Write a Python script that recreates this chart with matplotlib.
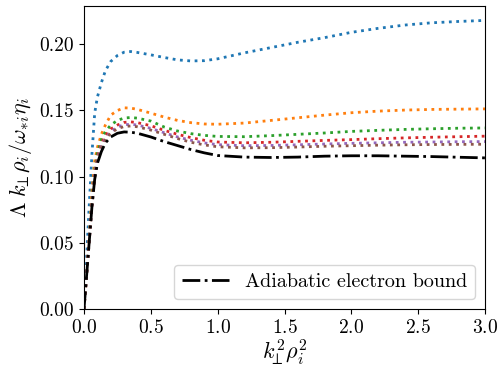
import matplotlib
matplotlib.use("Agg")
import matplotlib.pyplot as plt

plt.rcParams['font.family'] = 'serif'
plt.rcParams['font.serif'] = ['cmr10']
plt.rcParams['mathtext.fontset'] = 'cm'
plt.rcParams['axes.formatter.use_mathtext'] = True

x = [0, 0.01, 0.02, 0.04, 0.06, 0.08, 0.1, 0.13, 0.16, 0.2, 0.25, 0.3, 0.35, 0.4,
     0.5, 0.6, 0.7, 0.8, 0.9, 1.0, 1.2, 1.4, 1.6, 1.8, 2.0, 2.2, 2.4, 2.6, 2.8, 3.0]

blue = [0, 0.02, 0.04, 0.08, 0.118, 0.148, 0.160, 0.171, 0.180, 0.187, 0.1915, 0.194,
        0.1945, 0.1938, 0.192, 0.190, 0.1882, 0.1874, 0.1876, 0.189, 0.1935, 0.1975,
        0.2015, 0.205, 0.209, 0.212, 0.2145, 0.2162, 0.2172, 0.218]
orange = [0, 0.014, 0.028, 0.056, 0.09, 0.112, 0.122, 0.132, 0.139, 0.1465, 0.150, 0.152,
          0.1518, 0.1508, 0.148, 0.145, 0.1425, 0.1408, 0.1398, 0.1396, 0.1405, 0.1425,
          0.1445, 0.1465, 0.1483, 0.1495, 0.1503, 0.1508, 0.151, 0.1512]
green = [0, 0.014, 0.027, 0.054, 0.082, 0.105, 0.118, 0.128, 0.134, 0.139, 0.1425, 0.1443,
         0.1447, 0.1442, 0.142, 0.1375, 0.1345, 0.1325, 0.1312, 0.1304, 0.1302, 0.131,
         0.132, 0.133, 0.1342, 0.135, 0.1357, 0.1362, 0.1366, 0.1368]
red = [0, 0.013, 0.027, 0.053, 0.08, 0.102, 0.115, 0.125, 0.131, 0.136, 0.139, 0.1410,
       0.1414, 0.1408, 0.1385, 0.135, 0.132, 0.1295, 0.1275, 0.1262, 0.1256, 0.1260,
       0.1267, 0.1274, 0.128, 0.1287, 0.1293, 0.1298, 0.1302, 0.1306]
purple = [0, 0.013, 0.026, 0.053, 0.079, 0.10, 0.113, 0.123, 0.129, 0.134, 0.1375, 0.1392,
          0.1396, 0.139, 0.1365, 0.1332, 0.130, 0.1275, 0.1255, 0.1242, 0.1234, 0.1236,
          0.1241, 0.1247, 0.1252, 0.1256, 0.126, 0.1262, 0.1264, 0.1265]
brown = [0, 0.013, 0.026, 0.052, 0.078, 0.099, 0.112, 0.122, 0.128, 0.133, 0.1362, 0.1379,
         0.1383, 0.1377, 0.1352, 0.132, 0.1288, 0.126, 0.124, 0.1226, 0.1218, 0.1219,
         0.1224, 0.123, 0.1234, 0.1238, 0.1241, 0.1243, 0.1244, 0.1245]
bound = [0, 0.013, 0.026, 0.052, 0.078, 0.098, 0.110, 0.119, 0.1255, 0.130, 0.1328, 0.1338,
         0.1336, 0.1328, 0.130, 0.1265, 0.1235, 0.1205, 0.118, 0.1160, 0.1148, 0.1145,
         0.1148, 0.1155, 0.1158, 0.1158, 0.1155, 0.1152, 0.1147, 0.1142]

series = [blue, orange, green, red, purple, brown]
colors = ['#1f77b4', '#ff7f0e', '#2ca02c', '#d62728', '#9467bd', '#8c564b']

fig = plt.figure(figsize=(5.0, 3.65), dpi=100)
ax = fig.add_axes([0.168, 0.153, 0.802, 0.831])

for s, c in zip(series, colors):
    ax.plot(x, s, linestyle=':', color=c, linewidth=2)
ax.plot(x, bound, linestyle='-.', color='black', linewidth=2, label='Adiabatic electron bound')

ax.set_xlim(0, 3.0)
ax.set_ylim(0, 0.229)
ax.set_xticks([0.0, 0.5, 1.0, 1.5, 2.0, 2.5, 3.0])
ax.set_yticks([0.0, 0.05, 0.10, 0.15, 0.20])
ax.set_yticklabels(['0.00', '0.05', '0.10', '0.15', '0.20'])
ax.tick_params(labelsize=14)
ax.set_xlabel(r'$k_{\!\!\perp\!\!}^2\rho_i^2$', fontsize=16, labelpad=0)
ax.set_ylabel(r'$\Lambda\ k_{\!\!\perp\!\!}\,\rho_i/\omega_{*i}\eta_i$', fontsize=16)
ax.legend(loc='lower right', fontsize=14.5, handlelength=2.3)

fig.savefig('out.png', dpi=100)
